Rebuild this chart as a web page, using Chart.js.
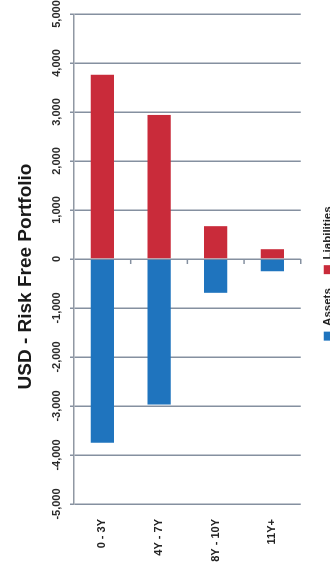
<!DOCTYPE html>
<html>
<head>
<meta charset="utf-8">
<script src="https://cdn.jsdelivr.net/npm/chart.js@4/dist/chart.umd.min.js"></script>
<style>
  html, body { margin: 0; padding: 0; background: #fff; overflow: hidden; width: 330px; height: 576px; }
  /* the chart is laid out landscape and turned a quarter turn counter-clockwise */
  #frame {
    position: absolute; left: 0; top: 0;
    width: 600px; height: 344px;
    transform-origin: 0 0;
    transform: translate(0, 576px) rotate(-90deg);
  }
  #c { display: block; width: 600px; height: 344px; }
</style>
</head>
<body>
<div id="frame"><canvas id="c" width="600" height="344"></canvas></div>
<script>
const categories = ['0 - 3Y', '4Y - 7Y', '8Y - 10Y', '11Y+'];
const assets = [-3750, -2970, -690, -250];
const liabilities = [3760, 2940, 670, 200];
const valueTicks = [-5000, -4000, -3000, -2000, -1000, 0, 1000, 2000, 3000, 4000, 5000];

const RED = '#c92b3a';
const BLUE = '#1f74be';
const GRID = '#8590a0';

Chart.defaults.font.family = "'Liberation Sans', Arial, sans-serif";

// short tick marks on the zero line between categories
const zeroTicks = {
  id: 'zeroTicks',
  afterDatasetsDraw(chart) {
    const { ctx, scales: { x, y } } = chart;
    const x0 = x.getPixelForValue(0);
    ctx.save();
    ctx.strokeStyle = GRID;
    ctx.lineWidth = 1.5;
    categories.forEach((_, i) => {
      const yy = y.getPixelForValue(i + 0.5);
      ctx.beginPath();
      ctx.moveTo(x0, yy);
      ctx.lineTo(x0 - 5, yy);
      ctx.stroke();
    });
    ctx.restore();
  }
};

// nudge the title and legend blocks toward the middle of the bars
const blockOffsets = {
  id: 'blockOffsets',
  afterLayout(chart) {
    const move = (box, dx) => { if (box) { box.left += dx; box.right += dx; } };
    move(chart.titleBlock, 12);
    move(chart.legend, 15);
  }
};

new Chart(document.getElementById('c'), {
  type: 'bar',
  data: {
    labels: categories,
    datasets: [
      { label: 'Assets', data: assets, backgroundColor: BLUE, borderWidth: 0 },
      { label: 'Liabilities', data: liabilities, backgroundColor: RED, borderWidth: 0 }
    ]
  },
  options: {
    indexAxis: 'y',
    responsive: false,
    animation: false,
    devicePixelRatio: 1,
    layout: { padding: { top: 4, left: 13, right: 38, bottom: 0 } },
    datasets: { bar: { barPercentage: 0.41, categoryPercentage: 1 } },
    scales: {
      x: {
        position: 'top',
        stacked: true,
        min: -5000,
        max: 5000,
        afterBuildTicks: s => { s.ticks = valueTicks.map(v => ({ value: v })); },
        grid: { color: GRID, lineWidth: 1.5, tickLength: 4 },
        border: { display: true, color: '#9098a3', width: 1.5 },
        ticks: {
          padding: 6.5,
          maxRotation: 0,
          color: '#2a2a2a',
          font: { size: 11, weight: 'bold' },
          callback: v => v.toLocaleString('en-US')
        }
      },
      y: {
        stacked: true,
        grid: { display: false, drawTicks: false },
        border: { display: false },
        afterFit: s => { s.width = 59; },
        ticks: {
          padding: 15,
          color: '#222',
          font: { size: 11, weight: 'bold' }
        }
      }
    },
    plugins: {
      title: {
        display: true,
        text: 'USD - Risk Free Portfolio',
        color: '#1a1a1a',
        font: { size: 19, weight: 'bold' },
        padding: { top: 10, bottom: 7 }
      },
      legend: {
        position: 'bottom',
        title: { display: true, text: '', font: { size: 5 }, padding: { top: 1.75, bottom: 0 } },
        labels: {
          boxWidth: 9,
          boxHeight: 9,
          padding: 14,
          color: '#222',
          font: { size: 11.5, weight: 'bold' }
        }
      },
      tooltip: { enabled: false }
    }
  },
  plugins: [zeroTicks, blockOffsets]
});
</script>
</body>
</html>
